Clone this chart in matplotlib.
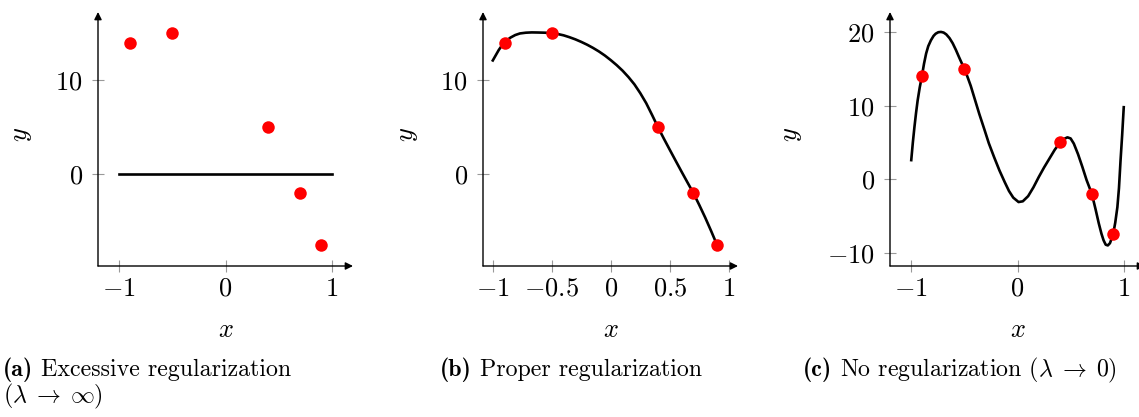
import matplotlib
matplotlib.use("Agg")
import matplotlib.pyplot as plt

plt.rcParams["font.family"] = "cmr10"
plt.rcParams["mathtext.fontset"] = "cm"
plt.rcParams["axes.formatter.use_mathtext"] = True

# ============================
# Data
# ============================
# training samples (red dots)
x_obs = [-0.9, -0.5, 0.4, 0.7, 0.9]
y_obs = [14, 15, 5, -2, -7.5]

# (a) lambda -> inf: flat model
x_flat = [-1.0, 1.0]
y_flat = [0.0, 0.0]

# (b) proper regularization
x_proper = [-1.0, -0.975, -0.95, -0.925, -0.9, -0.875, -0.85, -0.81, -0.77,
            -0.72, -0.67, -0.62, -0.56, -0.5, -0.45, -0.4, -0.35, -0.3, -0.25,
            -0.2, -0.15, -0.1, -0.05, 0.0, 0.05, 0.1, 0.15, 0.2, 0.25, 0.3,
            0.35, 0.4, 0.45, 0.5, 0.55, 0.6, 0.65, 0.7, 0.75, 0.8, 0.85, 0.9]
y_proper = [12.1, 12.65, 13.2, 13.65, 14.0, 14.3, 14.53, 14.8, 14.97,
            15.05, 15.08, 15.07, 15.05, 15.0, 14.91, 14.77, 14.57, 14.34, 14.07,
            13.77, 13.43, 13.05, 12.62, 12.13, 11.6, 11.01, 10.33, 9.56, 8.62, 7.56,
            6.3, 5.0, 3.78, 2.6, 1.43, 0.27, -0.87, -2.0, -3.27, -4.6, -6.02, -7.5]

# (c) no regularization: high-degree interpolant
x_over = [-1.0, -0.985, -0.97, -0.955, -0.94, -0.92, -0.9, -0.88, -0.86, -0.84,
          -0.815, -0.79, -0.77, -0.745, -0.72, -0.695, -0.67, -0.64, -0.61,
          -0.58, -0.55, -0.5, -0.47, -0.44, -0.4, -0.36, -0.31, -0.27, -0.22,
          -0.17, -0.12, -0.08, -0.04, 0.01, 0.05, 0.1, 0.15, 0.2, 0.25, 0.3,
          0.35, 0.4, 0.44, 0.47, 0.5, 0.53, 0.57, 0.61, 0.65, 0.7, 0.735,
          0.765, 0.79, 0.81, 0.83, 0.85, 0.87, 0.9, 0.92, 0.94, 0.955, 0.97,
          0.985, 1.0]
y_over = [2.6, 5.0, 7.1, 9.0, 10.7, 12.5, 14.0, 15.7, 17.1, 18.1,
          18.9, 19.5, 19.8, 20.0, 20.04, 19.95, 19.7, 19.2, 18.5,
          17.6, 16.6, 15.0, 13.9, 12.7, 10.8, 8.9, 6.7, 4.9, 3.0,
          1.2, -0.4, -1.6, -2.5, -3.1, -3.0, -2.3, -1.1, 0.3, 1.6, 2.8,
          4.0, 5.0, 5.5, 5.7, 5.55, 4.85, 3.4, 1.7, -0.1, -2.0, -4.1,
          -6.0, -7.4, -8.3, -8.9, -9.0, -8.7, -7.5, -5.9, -3.8, -1.2, 2.6,
          6.0, 9.8]

xticks_ab = [-1, 0, 1]
xticks_b = [-1, -0.5, 0, 0.5, 1]
xlabels_b = [r"$-1$", r"$-0.5$", r"$0$", r"$0.5$", r"$1$"]
xlabels_ab = [r"$-1$", r"$0$", r"$1$"]
yticks_ab = [0, 10]
ylabels_ab = [r"$0$", r"$10$"]
yticks_c = [-10, 0, 10, 20]
ylabels_c = [r"$-10$", r"$0$", r"$10$", r"$20$"]

captions = [
    (3, "(a)", "Excessive regularization"),
    (440, "(b)", "Proper regularization"),
    (803, "(c)", r"No regularization $(\lambda\;\to\;0)$"),
]
caption_extra = r"$(\lambda\;\to\;\infty)$"


# ============================
# Helper: pgf-style axes with arrows
# ============================
def style_axis(ax, xlim, ylim, xt, xl, yt, yl, ylab_x):
    ax.set_xlim(*xlim)
    ax.set_ylim(*ylim)
    for s in ax.spines.values():
        s.set_visible(False)
    arrow = dict(arrowstyle="-|>", mutation_scale=11, lw=1.0, color="black",
                 shrinkA=0, shrinkB=0)
    ax.annotate("", xy=(1, 0), xytext=(0, 0), xycoords="axes fraction",
                arrowprops=arrow, annotation_clip=False)
    ax.annotate("", xy=(0, 1), xytext=(0, 0), xycoords="axes fraction",
                arrowprops=arrow, annotation_clip=False)
    ax.set_xticks(xt)
    ax.set_xticklabels(xl)
    ax.set_yticks(yt)
    ax.set_yticklabels(yl)
    ax.tick_params(direction="inout", length=8, width=0.8, color="0.6",
                   labelsize=19)
    ax.tick_params(axis="x", pad=4)
    ax.tick_params(axis="y", pad=7)
    ax.set_xlabel(r"$x$", fontsize=19, va="center")
    ax.set_ylabel(r"$y$", fontsize=19, va="center", ha="center")
    ax.xaxis.set_label_coords(0.5, -0.252)
    ax.yaxis.set_label_coords(ylab_x, 0.516)
    ax.patch.set_visible(False)


W, H = 1139, 417
fig = plt.figure(figsize=(W / 100, H / 100), dpi=100)

def add_panel(left_px):
    return fig.add_axes([left_px / W, 151 / H, 255 / W, 254 / H])

ax_a = add_panel(98)
ax_b = add_panel(483)
ax_c = add_panel(890)

# (a)
ax_a.plot(x_flat, y_flat, color="black", lw=1.9, zorder=2)
ax_a.plot(x_obs, y_obs, "o", color="red", ms=9, mec="none", zorder=3)
style_axis(ax_a, (-1.2, 1.2), (-9.75, 17.25), xticks_ab, xlabels_ab,
           yticks_ab, ylabels_ab, -0.298)

# (b)
ax_b.plot(x_proper, y_proper, color="black", lw=1.9, zorder=2,
          solid_joinstyle="round")
ax_b.plot(x_obs, y_obs, "o", color="red", ms=9, mec="none", zorder=3)
style_axis(ax_b, (-1.083, 1.078), (-9.75, 17.25), xticks_b, xlabels_b,
           yticks_ab, ylabels_ab, -0.294)

# (c)
ax_c.plot(x_over, y_over, color="black", lw=1.9, zorder=2,
          solid_joinstyle="round")
ax_c.plot(x_obs, y_obs, "o", color="red", ms=9, mec="none", zorder=3)
style_axis(ax_c, (-1.2, 1.2), (-11.8, 22.75), xticks_ab, xlabels_ab,
           yticks_c, ylabels_c, -0.384)

# ============================
# Sub-captions: bold tag + roman text on one baseline
# ============================
cap_size = 17.2
base1 = 1 - 376 / H
base2 = 1 - 402 / H
tags = []
for xpx, tag, _ in captions:
    tags.append(fig.text(xpx / W, base1, tag, fontfamily="cmb10",
                         fontsize=cap_size, va="baseline", ha="left"))
fig.canvas.draw()
renderer = fig.canvas.get_renderer()
for t, (_, _, rest) in zip(tags, captions):
    bb = t.get_window_extent(renderer)
    fig.text((bb.x1 + 8) / W, base1, rest, fontsize=cap_size,
             va="baseline", ha="left")
fig.text(3 / W, base2, caption_extra, fontsize=cap_size, va="baseline",
         ha="left")

fig.savefig("out.png", dpi=100)
